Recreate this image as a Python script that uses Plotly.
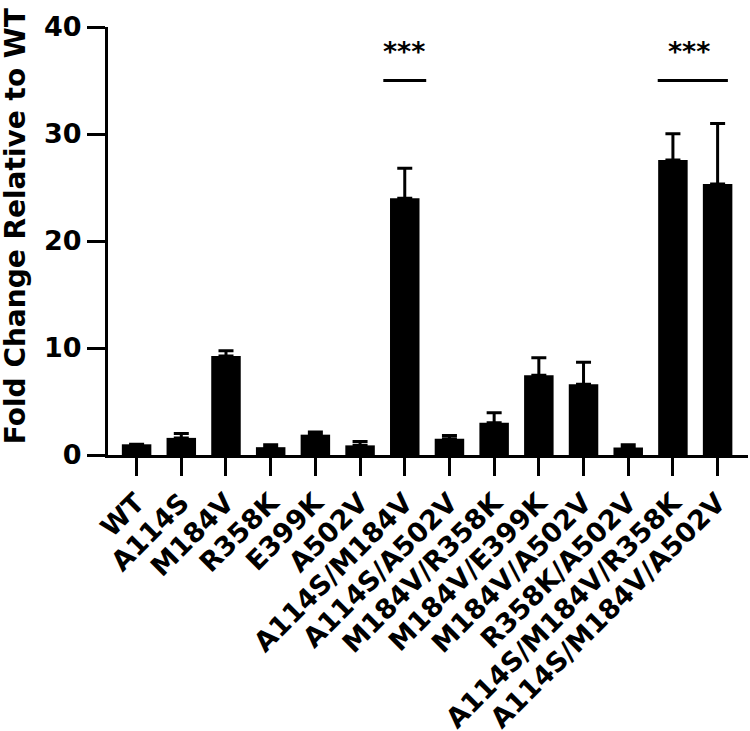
import plotly.graph_objects as go

categories = ["WT", "A114S", "M184V", "R358K", "E399K", "A502V",
              "A114S/M184V", "A114S/A502V", "M184V/R358K", "M184V/E399K",
              "M184V/A502V", "R358K/A502V", "A114S/M184V/R358K", "A114S/M184V/A502V"]
fold_change = [1.0, 1.6, 9.25, 0.73, 1.9, 0.9, 24.0, 1.52, 3.02, 7.46, 6.62, 0.7, 27.56, 25.33]
error_up = [0.0, 0.4, 0.5, 0.23, 0.24, 0.37, 2.8, 0.31, 0.94, 1.63, 2.04, 0.26, 2.47, 5.64]

y_ticks = [0, 10, 20, 30, 40]
sig_labels = ["***", "***"]
sig_line_x0 = [5.52, 11.66]
sig_line_x1 = [6.48, 13.23]
sig_text_x = [5.98, 12.36]
sig_line_y = 35.0
sig_text_y = 37.75

FONT = "DejaVu Sans"

fig = go.Figure()
fig.add_trace(go.Bar(
    x=list(range(len(categories))), y=fold_change,
    marker=dict(color="black", line=dict(width=0)),
    error_y=dict(type="data", array=error_up, arrayminus=[0]*len(error_up),
                 symmetric=False, color="black", thickness=3, width=7.5),
    showlegend=False,
))

for x0, x1, xt, lab in zip(sig_line_x0, sig_line_x1, sig_text_x, sig_labels):
    fig.add_shape(type="line", xref="x", yref="y", x0=x0, x1=x1,
                  y0=sig_line_y, y1=sig_line_y, line=dict(color="black", width=3))
    fig.add_annotation(x=xt, y=sig_text_y, xref="x", yref="y", text=lab,
                       showarrow=False,
                       font=dict(family=FONT, size=27, color="black", weight="bold"))

fig.add_annotation(xref="paper", yref="paper", x=(15 - 108) / 640, y=(454.5 - 226) / 427.5,
                   xanchor="center", yanchor="middle",
                   text="Fold Change Relative to WT", textangle=-90, showarrow=False,
                   font=dict(family=FONT, size=28, color="black", weight="bold"))

fig.update_layout(
    width=750, height=731,
    margin=dict(l=108, r=2, t=27, b=276, autoexpand=False),
    plot_bgcolor="white", paper_bgcolor="white",
    bargap=0.34,
    font=dict(family=FONT, color="black", weight="bold"),
    xaxis=dict(
        range=[-0.64, 13.68], automargin=False,
        tickmode="array", tickvals=list(range(len(categories))), ticktext=categories,
        tickangle=-45, ticks="outside", ticklen=18, tickwidth=3, tickcolor="black",
        showline=True, linewidth=3, linecolor="black", showgrid=False, zeroline=False,
        tickfont=dict(family=FONT, size=27, color="black", weight="bold"),
    ),
    yaxis=dict(
        range=[0, 40], tickmode="array", tickvals=y_ticks, automargin=False,
        ticktext=[str(v) for v in y_ticks],
        ticks="outside", ticklen=18, tickwidth=3, tickcolor="black",
        showline=True, linewidth=3, linecolor="black", showgrid=False, zeroline=False,
        tickfont=dict(family=FONT, size=27, color="black", weight="bold"),
    ),
)

fig.write_html("out.html", config={"displayModeBar": False},
               post_script="document.body.style.margin='0';document.body.style.overflow='hidden';")
